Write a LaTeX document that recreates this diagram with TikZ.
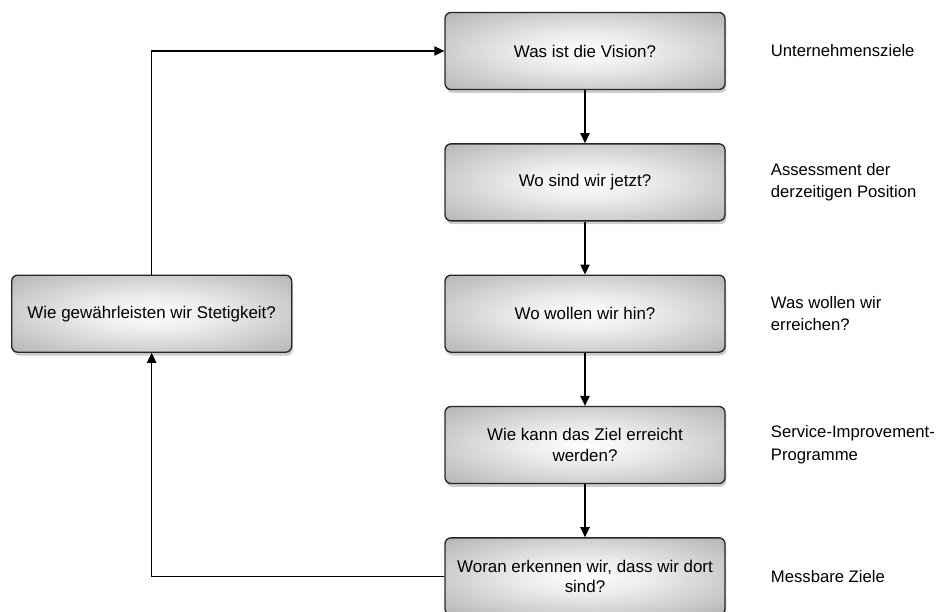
\documentclass[tikz,border=0pt]{standalone}
\usepackage{fontspec}
\setmainfont{Liberation Sans}
\usetikzlibrary{arrows.meta,positioning,shadows}

\pgfdeclareradialshading{kasten}{\pgfpoint{0bp}{0bp}}{color(0bp)=(white); color(12bp)=(black!8); color(50bp)=(black!42); color(72bp)=(black!52)}

\begin{document}
\begin{tikzpicture}[>={Triangle[length=7.5pt,width=7pt]},node distance=39.75pt,
	every node/.style={font=\fontsize{12.7}{15.5}\selectfont},
	frage/.style={draw=black!85,line width=1pt,rounded corners=4.5pt,minimum width=210pt,minimum height=57.75pt,align=center,shading=kasten,drop shadow={shadow xshift=1pt,shadow yshift=-2.5pt,opacity=0.4}},
	ziel/.style={align=left,inner sep=0pt,font=\fontsize{12.5}{17}\selectfont}]

\useasboundingbox (0,0) rectangle (704.25pt,-458.25pt);

\node[frage]   (b1) at (438.75pt,-38.25pt)   {Was ist die Vision?};
 \node[frage]  (b2) [below=of b1]   {Wo sind wir jetzt?};
	\node[frage]  (b3) [below=of b2]   {Wo wollen wir hin?};
	\node[frage]  (b4) [below=of b3]   {Wie kann das Ziel erreicht\\werden?};
	\node[frage]  (b5) [below=of b4]   {Woran erkennen wir, dass wir dort\\sind?};
	\node[frage]  (links) [left=114pt of b3]   {Wie gewährleisten wir Stetigkeit?};

	\node[ziel]  (z1) [right=33.75pt of b1]  {Unternehmensziele};
	\node[ziel]  (z2) [right=33.75pt of b2]  {Assessment der\\derzeitigen Position};
	\node[ziel]  (z3) [right=33.75pt of b3]  {Was wollen wir\\erreichen?};
	\node[ziel]  (z4) [right=33.75pt of b4]  {Service-Improvement-\\Programme};
	\node[ziel]  (z5) [right=33.75pt of b5]  {Messbare Ziele};

	\path[->,line width=1pt] (b1) edge (b2)
		(b2) edge (b3)
		(b3) edge (b4)
		(b4) edge (b5);

	\draw[->,line width=1pt] (links) |- (b1);
	\draw[->,line width=1pt] (b5) -| (links);

\end{tikzpicture}
\end{document}
